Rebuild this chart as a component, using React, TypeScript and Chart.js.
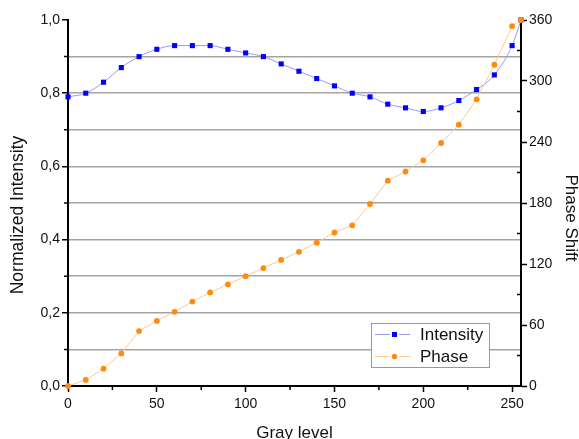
import React, { useEffect, useRef } from 'react';
import { Chart, registerables } from 'chart.js';

Chart.register(...registerables);

// ---------- data ----------
const grayLevels = [0, 10, 20, 30, 40, 50, 60, 70, 80, 90, 100, 110, 120, 130, 140, 150, 160, 170, 180, 190, 200, 210, 220, 230, 240, 250, 255];
const intensity = [0.79, 0.8, 0.83, 0.87, 0.9, 0.92, 0.93, 0.93, 0.93, 0.92, 0.91, 0.9, 0.88, 0.86, 0.84, 0.82, 0.8, 0.79, 0.77, 0.76, 0.75, 0.76, 0.78, 0.81, 0.85, 0.93, 1.0];
const phase = [0, 6, 17, 32, 54, 64, 73, 83, 92, 100, 108, 116, 124, 132, 141, 151, 158, 179, 202, 211, 222, 239, 257, 282, 316, 354, 360];

const xMajorTicks = [0, 50, 100, 150, 200, 250];
const xMinorTicks = [25, 75, 125, 175, 225];
const yTicks = [0, 0.1, 0.2, 0.3, 0.4, 0.5, 0.6, 0.7, 0.8, 0.9, 1.0];
const yMajorTicks = [0, 0.2, 0.4, 0.6, 0.8, 1.0];
const y2MajorTicks = [0, 60, 120, 180, 240, 300, 360];
const y2MinorTicks = [30, 90, 150, 210, 270, 330];

const seriesLabels = ['Intensity', 'Phase'];
const xTitle = 'Gray level';
const yTitle = 'Normalized Intensity';
const y2Title = 'Phase Shift';

const FONT = "'Liberation Sans', Arial, sans-serif";
const isMajorY = (v: number) => yMajorTicks.some((m) => Math.abs(m - v) < 1e-6);

const minorTicksPlugin = {
  id: 'minorTicks',
  afterDraw(chart: any) {
    const ctx = chart.ctx;
    const { x, y, y2 } = chart.scales;
    const area = chart.chartArea;
    ctx.save();
    ctx.strokeStyle = '#000';
    ctx.lineWidth = 1.5;
    ctx.beginPath();
    xMinorTicks.forEach((v) => {
      const px = x.getPixelForValue(v);
      ctx.moveTo(px, area.bottom);
      ctx.lineTo(px, area.bottom + 4);
    });
    yTicks.filter((v) => !isMajorY(v)).forEach((v) => {
      const py = y.getPixelForValue(v);
      ctx.moveTo(area.left, py);
      ctx.lineTo(area.left - 4, py);
    });
    y2MinorTicks.forEach((v) => {
      const py = y2.getPixelForValue(v);
      ctx.moveTo(area.right, py);
      ctx.lineTo(area.right - 4, py);
    });
    ctx.stroke();
    ctx.restore();
  },
};

const titlesPlugin = {
  id: 'axisTitles',
  afterDraw(chart: any) {
    const ctx = chart.ctx;
    const a = chart.chartArea;
    const midY = (a.top + a.bottom) / 2;
    ctx.save();
    ctx.fillStyle = '#111';
    ctx.textAlign = 'center';
    ctx.textBaseline = 'middle';
    ctx.font = `17px ${FONT}`;
    ctx.fillText(xTitle, (a.left + a.right) / 2, a.bottom + 47);
    ctx.save();
    ctx.translate(a.left - 50, midY + 12);
    ctx.rotate(-Math.PI / 2);
    ctx.font = `17.5px ${FONT}`;
    ctx.fillText(yTitle, 0, 0);
    ctx.restore();
    ctx.save();
    ctx.translate(a.right + 50, midY + 15);
    ctx.rotate(Math.PI / 2);
    ctx.fillText(y2Title, 0, 0);
    ctx.restore();
    ctx.restore();
  },
};

const legendPlugin = {
  id: 'boxLegend',
  afterDraw(chart: any) {
    const ctx = chart.ctx;
    const a = chart.chartArea;
    const bx = a.right - 150;
    const by = a.bottom - 63;
    const bw = 118;
    const bh = 44;
    ctx.save();
    ctx.fillStyle = '#fff';
    ctx.fillRect(bx, by, bw, bh);
    ctx.strokeStyle = '#9a9a9a';
    ctx.lineWidth = 1;
    ctx.strokeRect(bx + 0.5, by + 0.5, bw, bh);
    chart.data.datasets.forEach((ds: any, i: number) => {
      const cy = by + 11 + i * 22;
      const mx = bx + 23;
      ctx.strokeStyle = ds.borderColor;
      ctx.lineWidth = 1;
      ctx.beginPath();
      ctx.moveTo(bx + 4, cy + 0.5);
      ctx.lineTo(mx - 4, cy + 0.5);
      ctx.moveTo(mx + 5, cy + 0.5);
      ctx.lineTo(bx + 39, cy + 0.5);
      ctx.stroke();
      ctx.fillStyle = ds.pointBackgroundColor;
      if (ds.pointStyle === 'rect') {
        ctx.fillRect(mx - 2, cy - 2, 5, 5);
      } else {
        ctx.beginPath();
        ctx.arc(mx + 0.5, cy + 0.5, 2.7, 0, Math.PI * 2);
        ctx.fill();
      }
      ctx.fillStyle = '#111';
      ctx.font = `17px ${FONT}`;
      ctx.textAlign = 'left';
      ctx.textBaseline = 'middle';
      ctx.fillText(ds.label, bx + 49, cy + 1);
    });
    ctx.restore();
  },
};

export default function App() {
  const ref = useRef<HTMLCanvasElement | null>(null);

  useEffect(() => {
    if (!ref.current) return;
    const chart = new Chart(ref.current, {
      type: 'line',
      data: {
        datasets: [
          {
            label: seriesLabels[0],
            data: grayLevels.map((g, i) => ({ x: g, y: intensity[i] })),
            yAxisID: 'y',
            borderColor: '#9a9af0',
            borderWidth: 1,
            backgroundColor: '#0000ff',
            pointBackgroundColor: '#0000ff',
            pointBorderColor: '#0000ff',
            pointBorderWidth: 0,
            pointStyle: 'rect',
            pointRadius: 3.6,
            cubicInterpolationMode: 'monotone',
            clip: false,
            order: 2,
          },
          {
            label: seriesLabels[1],
            data: grayLevels.map((g, i) => ({ x: g, y: phase[i] })),
            yAxisID: 'y2',
            borderColor: '#ffc98f',
            borderWidth: 1,
            backgroundColor: '#ff8a12',
            pointBackgroundColor: '#ff8a12',
            pointBorderColor: '#ff8a12',
            pointBorderWidth: 0,
            pointStyle: 'circle',
            pointRadius: 2.9,
            tension: 0,
            clip: false,
            order: 1,
          },
        ],
      },
      options: {
        responsive: false,
        animation: false,
        devicePixelRatio: 1,
        layout: { padding: { top: 20, left: 0, right: 0, bottom: 0 } },
        plugins: {
          legend: { display: false },
          tooltip: { enabled: false },
        },
        scales: {
          x: {
            type: 'linear',
            min: 0,
            max: 255,
            afterBuildTicks: (s: any) => {
              s.ticks = xMajorTicks.map((v) => ({ value: v }));
            },
            afterFit: (s: any) => {
              s.height = 53;
            },
            border: { color: '#000', width: 2 },
            grid: { drawOnChartArea: false, tickLength: 6, tickColor: '#000', tickWidth: 1.5 },
            ticks: { color: '#111', padding: 4, font: { family: FONT, size: 14 }, maxRotation: 0 },
          },
          y: {
            type: 'linear',
            position: 'left',
            min: 0,
            max: 1,
            afterBuildTicks: (s: any) => {
              s.ticks = yTicks.map((v) => ({ value: v }));
            },
            afterFit: (s: any) => {
              s.width = 68;
            },
            border: { color: '#000', width: 2 },
            grid: {
              color: (c: any) => {
                const v = c.tick ? c.tick.value : 0;
                return v < 0.05 || v > 0.95 ? 'rgba(0,0,0,0)' : '#a3a3a3';
              },
              lineWidth: 1.5,
              tickLength: 6,
              tickWidth: 1.5,
              tickColor: (c: any) => (c.tick && isMajorY(c.tick.value) ? '#000' : 'rgba(0,0,0,0)'),
            },
            ticks: {
              color: '#111',
              padding: 2,
              font: { family: FONT, size: 14 },
              callback: (v: any) => (isMajorY(Number(v)) ? Number(v).toFixed(1).replace('.', ',') : ''),
            },
          },
          y2: {
            type: 'linear',
            position: 'right',
            min: 0,
            max: 360,
            afterBuildTicks: (s: any) => {
              s.ticks = y2MajorTicks.map((v) => ({ value: v }));
            },
            afterFit: (s: any) => {
              s.width = 58;
            },
            border: { color: '#000', width: 2 },
            grid: { drawOnChartArea: false, tickLength: 6, tickColor: '#000', tickWidth: 1.5 },
            ticks: { color: '#111', padding: 2, font: { family: FONT, size: 14 } },
          },
        },
      },
      plugins: [minorTicksPlugin, titlesPlugin, legendPlugin],
    } as any);
    return () => chart.destroy();
  }, []);

  return (
    <div style={{ position: 'fixed', left: 0, top: 0, width: 579, height: 439, background: '#fff' }}>
      <canvas ref={ref} width={579} height={439} style={{ display: 'block' }} />
    </div>
  );
}
